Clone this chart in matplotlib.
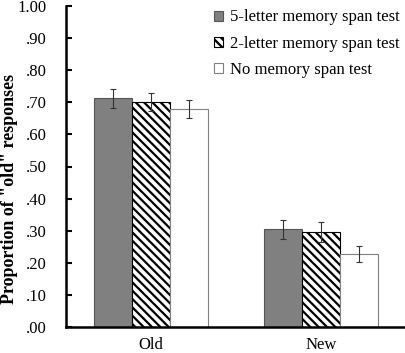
import matplotlib.pyplot as plt
import numpy as np

plt.rcParams['font.family'] = 'Liberation Serif'
plt.rcParams['hatch.linewidth'] = 1.6

categories = ['Old', 'New']
series = ['5-letter memory span test', '2-letter memory span test', 'No memory span test']
five_letter = [0.712, 0.304]
two_letter = [0.701, 0.296]
no_span = [0.680, 0.227]
five_err = [0.030, 0.029]
two_err = [0.027, 0.031]
no_err = [0.028, 0.026]
yticks = np.arange(0, 1.01, 0.1)
ytick_labels = ['.00', '.10', '.20', '.30', '.40', '.50', '.60', '.70', '.80', '.90', '1.00']

fig = plt.figure(figsize=(4.06, 3.53), dpi=100)
ax = fig.add_axes([66/406, 26/353, 340/406, 321/353])

x = np.arange(len(categories))
w = 0.224
errkw = dict(ecolor='#333333', elinewidth=0.8, capsize=2.5, capthick=0.8)
ax.bar(x - w, five_letter, w, yerr=five_err, color='#808080', edgecolor='#555555',
       linewidth=0.8, label=series[0], error_kw=errkw)
ax.bar(x, two_letter, w, yerr=two_err, color='white', edgecolor='black', hatch='\\\\\\\\',
       linewidth=0.8, label=series[1], error_kw=errkw)
ax.bar(x + w, no_span, w, yerr=no_err, color='white', edgecolor='#808080',
       linewidth=0.8, label=series[2], error_kw=errkw)

ax.set_xlim(-0.5, 1.5)
ax.set_ylim(0, 1.0)
ax.set_xticks(x)
ax.set_xticklabels(categories, fontsize=12)
ax.set_yticks(yticks)
ax.set_yticklabels(ytick_labels, fontsize=12)
ax.tick_params(axis='y', direction='in', length=4, width=1.5, pad=14)
ax.tick_params(axis='x', length=0, pad=7)
ax.spines['top'].set_visible(False)
ax.spines['right'].set_visible(False)
ax.spines['left'].set_linewidth(1.8)
ax.spines['bottom'].set_linewidth(1.8)
ax.set_ylabel('Proportion of "old" responses', fontsize=13, fontweight='bold')
ax.yaxis.set_label_coords(-48/340, 0.43)

ax.legend(loc='upper right', bbox_to_anchor=(1.0, 1.01), frameon=False, fontsize=12,
          handlelength=0.55, handleheight=0.55, handletextpad=0.4, labelspacing=0.62,
          borderaxespad=0)

fig.savefig('out.png', dpi=100)
